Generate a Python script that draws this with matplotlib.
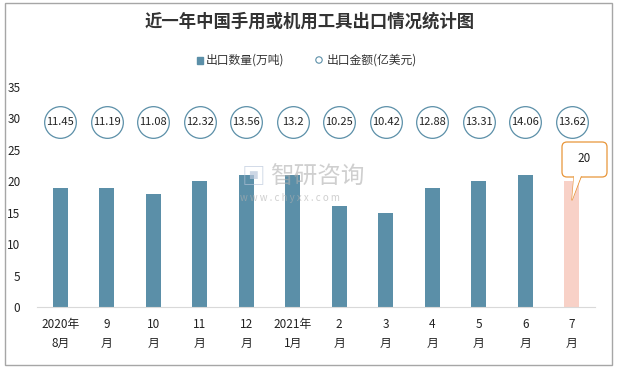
import numpy as np
import matplotlib.pyplot as plt
from matplotlib.patches import FancyBboxPatch, Rectangle, Polygon

plt.rcParams['font.family'] = ['Noto Sans CJK SC', 'DejaVu Sans']

months = ['2020年\n8月', '9\n月', '10\n月', '11\n月', '12\n月', '2021年\n1月',
          '2\n月', '3\n月', '4\n月', '5\n月', '6\n月', '7\n月']
qty = [19, 19, 18, 20, 21, 21, 16, 15, 19, 20, 21, 20]      # 出口数量(万吨)
amount = [11.45, 11.19, 11.08, 12.32, 13.56, 13.2, 10.25, 10.42, 12.88, 13.31, 14.06, 13.62]  # 出口金额(亿美元)
amount_level = 29.4   # circles drawn on one row

bar_color = '#5b8fa8'
last_color = '#f8d1c7'
W, H = 619, 369


def px(x, y):
    # pixel position (from top-left) -> inches for dpi_scale_trans
    return x / 100, (H - y) / 100


fig = plt.figure(figsize=(W / 100, H / 100), dpi=100)
ax = fig.add_axes([37 / W, 1 - 307 / H, 558 / W, 220 / H])

x = np.arange(len(months))
colors = [bar_color] * (len(qty) - 1) + [last_color]
ax.bar(x, qty, width=0.32, color=colors, zorder=2)

ax.scatter(x, [amount_level] * len(x), s=520, facecolor='white',
           edgecolor='#5b8fa8', linewidth=0.9, zorder=3)
for xi, v in zip(x, amount):
    ax.text(xi, amount_level, f'{v:g}', ha='center', va='center', fontsize=8,
            color='#222222', zorder=4)

ax.set_xlim(-0.5, len(months) - 0.5)
ax.set_ylim(0, 35)
ax.set_yticks(range(0, 36, 5))
ax.set_xticks(x)
ax.set_xticklabels(months, fontsize=9.5, linespacing=1.6, color='#222222')
ax.tick_params(axis='both', length=0, labelsize=8.5, colors='#222222')
ax.tick_params(axis='x', pad=8)
ax.tick_params(axis='y', pad=12)
for s in ['top', 'right', 'left']:
    ax.spines[s].set_visible(False)
ax.spines['bottom'].set_color('#d9d9d9')

# callout for last bar (drawn in figure inches)
orange = '#e8963a'
bx0, by0 = px(562, 177)
box = FancyBboxPatch((bx0, by0), 0.45, 0.35, boxstyle='round,pad=0,rounding_size=0.05',
                     transform=fig.dpi_scale_trans, facecolor='white', edgecolor=orange,
                     linewidth=0.9, zorder=5)
fig.patches.append(box)
p1, tip, p2 = px(574, 177), px(572, 200), px(581, 177)
fig.patches.append(Polygon([(p1[0], p1[1] + 0.01), tip, (p2[0], p2[1] + 0.01)], closed=True,
                           transform=fig.dpi_scale_trans, facecolor='white', edgecolor='none', zorder=6))
fig.lines.append(plt.Line2D([p1[0], tip[0], p2[0]], [p1[1], tip[1], p2[1]], color=orange, lw=0.9,
                            transform=fig.dpi_scale_trans, zorder=6))
fig.text(584 / W, 1 - 159 / H, str(qty[-1]), ha='center', va='center', fontsize=8.5,
         color='#222222', zorder=7)

# title and legend
fig.text(0.5, 1 - 22 / H, '近一年中国手用或机用工具出口情况统计图', ha='center', va='center',
         fontsize=12.5, fontweight='bold', color='#333333')
fig.patches.append(Rectangle((197 / W, 1 - 64 / H), 6 / W, 7 / H,
                             transform=fig.transFigure, color=bar_color))
fig.text(206 / W, 1 - 60 / H, '出口数量(万吨)', ha='left', va='center', fontsize=8.5, color='#333333')
fig.patches.append(plt.Circle(px(319, 60), 0.032, transform=fig.dpi_scale_trans,
                              facecolor='white', edgecolor=bar_color, lw=0.8))
fig.text(327 / W, 1 - 60 / H, '出口金额(亿美元)', ha='left', va='center', fontsize=8.5, color='#333333')

# watermark
fig.text(242 / W, 1 - 177 / H, '▣', fontsize=17, color='#b8c6da', alpha=0.7, ha='left', va='center')
fig.text(270 / W, 1 - 177 / H, '智研咨询', fontsize=17, color='#b0b0b0', alpha=0.6, ha='left', va='center')
fig.text(240 / W, 1 - 198 / H, 'w w w . c h y x x . c o m', fontsize=7, color='#b0b0b0',
         alpha=0.6, ha='left', va='center')

# outer border
fig.patches.append(Rectangle((5 / W, 4 / H), 607 / W, 362 / H, transform=fig.transFigure,
                             fill=False, edgecolor='#a6a6a6', lw=1))

fig.savefig('out.png', dpi=100)
